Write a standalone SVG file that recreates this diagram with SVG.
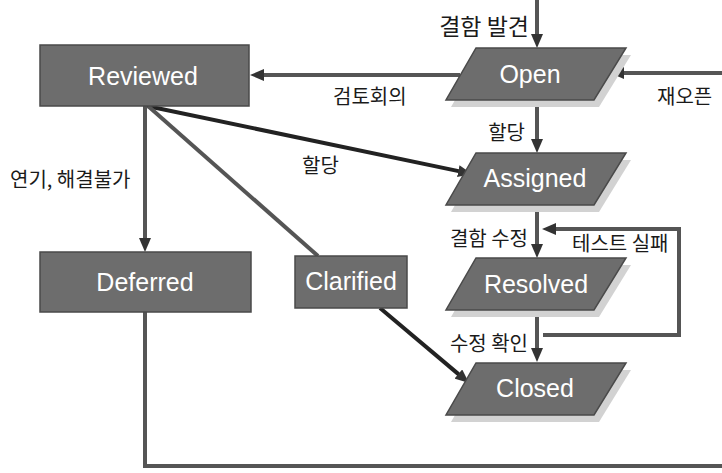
<svg xmlns="http://www.w3.org/2000/svg" width="722" height="473" viewBox="0 0 722 473">
  <style>
    .node { fill: #6d6d6d; stroke: #4a4a4a; stroke-width: 1.5; }
    .shadow { fill: #d2d2d2; }
    .name { font-family: "Liberation Sans", Arial, sans-serif; font-size: 25px; fill: #ffffff; text-anchor: middle; }
    .lbl { font-family: "Noto Sans CJK KR", "Noto Sans", sans-serif; font-size: 20px; fill: #1a1a1a; }
    .big { font-size: 23px; }
    .edge { fill: none; stroke: #555555; stroke-width: 4; stroke-linecap: butt; stroke-linejoin: miter; }
    .dark { stroke: #222222; }
  </style>
  <defs>
    <marker id="arrow" viewBox="0 0 14 12" refX="4" refY="6" markerWidth="14" markerHeight="12" markerUnits="userSpaceOnUse" orient="auto">
      <path d="M0,0 L14,6 L0,12 z" fill="#333333"/>
    </marker>
    <polygon id="para" points="476,0 626,0 594,52 446,52"/>
  </defs>

  <rect width="722" height="473" fill="#ffffff"/>

  <!-- connectors -->
  <g id="connectors">
    <path class="edge" d="M537,0 V38" marker-end="url(#arrow)"/>
    <path class="edge" d="M460,75 H260" marker-end="url(#arrow)"/>
    <path class="edge" d="M722,73 H620" marker-end="url(#arrow)"/>
    <path class="edge" d="M537,100 V143" marker-end="url(#arrow)"/>
    <path class="edge dark" d="M147,106 L462.2,171.9" marker-end="url(#arrow)"/>
    <path class="edge" d="M145,106 V242" marker-end="url(#arrow)"/>
    <path class="edge" d="M148,106 L318,256"/>
    <path class="edge" d="M537,205 V248" marker-end="url(#arrow)"/>
    <path class="edge" d="M543,335 H679 V229 H552" marker-end="url(#arrow)"/>
    <path class="edge" d="M537,311 V352" marker-end="url(#arrow)"/>
    <path class="edge dark" d="M380,308 L461.4,376.6" marker-end="url(#arrow)"/>
    <path class="edge" d="M145,312 V466 H722"/>

    <text class="lbl big" x="529" y="35" text-anchor="end">결함 발견</text>
    <text class="lbl" x="333" y="104">검토회의</text>
    <text class="lbl" x="657" y="104">재오픈</text>
    <text class="lbl" x="525" y="140" text-anchor="end">할당</text>
    <text class="lbl" x="302" y="173">할당</text>
    <text class="lbl" x="10" y="187">연기, 해결불가</text>
    <text class="lbl" x="528" y="246" text-anchor="end">결함 수정</text>
    <text class="lbl" x="572" y="251">테스트 실패</text>
    <text class="lbl" x="528" y="351" text-anchor="end">수정 확인</text>
  </g>

  <!-- rectangular states -->
  <g id="reviewed">
    <rect class="node" x="40" y="45" width="209" height="61"/>
    <text class="name" x="143" y="85">Reviewed</text>
  </g>
  <g id="deferred">
    <rect class="node" x="40" y="252" width="211" height="60"/>
    <text class="name" x="145" y="291">Deferred</text>
  </g>
  <g id="clarified">
    <rect class="node" x="295" y="256" width="112" height="52"/>
    <text class="name" x="351" y="290">Clarified</text>
  </g>

  <!-- parallelogram states -->
  <g id="open">
    <use href="#para" class="shadow" transform="translate(5,55)"/>
    <use href="#para" class="node" transform="translate(0,48)"/>
    <text class="name" x="530" y="83">Open</text>
  </g>
  <g id="assigned">
    <use href="#para" class="shadow" transform="translate(5,160)"/>
    <use href="#para" class="node" transform="translate(0,153)"/>
    <text class="name" x="535" y="187">Assigned</text>
  </g>
  <g id="resolved">
    <use href="#para" class="shadow" transform="translate(5,265)"/>
    <use href="#para" class="node" transform="translate(0,258)"/>
    <text class="name" x="536" y="293">Resolved</text>
  </g>
  <g id="closed">
    <use href="#para" class="shadow" transform="translate(5,370)"/>
    <use href="#para" class="node" transform="translate(0,363)"/>
    <text class="name" x="535" y="397">Closed</text>
  </g>
</svg>
